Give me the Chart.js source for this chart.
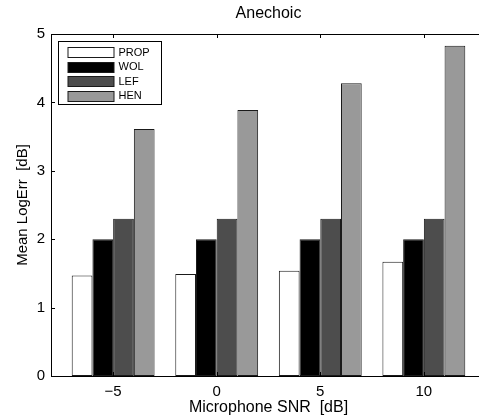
<!DOCTYPE html>
<html>
<head>
<meta charset="utf-8">
<script src="https://cdn.jsdelivr.net/npm/chart.js@4/dist/chart.umd.min.js"></script>
<style>
  html, body { margin: 0; padding: 0; background: #fff; overflow: hidden; }
  #wrap { position: relative; width: 500px; height: 420px; }
</style>
</head>
<body>
<div id="wrap"><canvas id="c"></canvas></div>
<script>
// ---- data ----
const snrValues = [-5, 0, 5, 10];
const seriesNames = ['PROP', 'WOL', 'LEF', 'HEN'];
const propValues = [1.47, 1.49, 1.54, 1.67];
const wolValues = [2.00, 2.00, 2.00, 2.00];
const lefValues = [2.30, 2.30, 2.30, 2.30];
const henValues = [3.61, 3.89, 4.28, 4.83];
const yTickValues = [0, 1, 2, 3, 4, 5];

const seriesColors = ['#ffffff', '#000000', '#4d4d4d', '#999999'];
const allSeries = [propValues, wolValues, lefValues, henValues];
const FONT = 'Liberation Sans, Arial, Helvetica, sans-serif';

const datasets = allSeries.map((vals, i) => ({
  label: seriesNames[i],
  data: snrValues.map((x, j) => ({ x: x, y: vals[j] })),
  backgroundColor: seriesColors[i],
  borderColor: '#1a1a1a',
  borderWidth: 1,
  borderSkipped: false,
  categoryPercentage: 0.8,
  barPercentage: 1.0
}));

// inward ticks + full box, MATLAB style
const boxTicks = {
  id: 'boxTicks',
  afterDatasetsDraw(chart) {
    const { ctx, chartArea: a, scales: { x, y } } = chart;
    ctx.save();
    ctx.strokeStyle = '#000';
    ctx.lineWidth = 1;
    ctx.beginPath();
    ctx.rect(Math.round(a.left) + 0.5, Math.round(a.top) + 0.5,
             Math.round(a.right - a.left), Math.round(a.bottom - a.top));
    const L = 4;
    snrValues.forEach(v => {
      const px = Math.round(x.getPixelForValue(v)) + 0.5;
      ctx.moveTo(px, a.bottom); ctx.lineTo(px, a.bottom - L);
      ctx.moveTo(px, a.top); ctx.lineTo(px, a.top + L);
    });
    yTickValues.forEach(v => {
      const py = Math.round(y.getPixelForValue(v)) + 0.5;
      ctx.moveTo(a.left, py); ctx.lineTo(a.left + L, py);
      ctx.moveTo(a.right, py); ctx.lineTo(a.right - L, py);
    });
    ctx.stroke();
    ctx.restore();
  }
};

// legend box inside the plot (upper-left), MATLAB style
const innerLegend = {
  id: 'innerLegend',
  afterDraw(chart) {
    const { ctx, chartArea: a } = chart;
    const bx = Math.round(a.left) + 7.5, by = Math.round(a.top) + 7.5;
    const bw = 103, bh = 63;
    ctx.save();
    ctx.fillStyle = '#fff';
    ctx.strokeStyle = '#000';
    ctx.lineWidth = 1;
    ctx.fillRect(bx, by, bw, bh);
    ctx.strokeRect(bx, by, bw, bh);
    ctx.font = '11px ' + FONT;
    ctx.textBaseline = 'middle';
    chart.data.datasets.forEach((ds, i) => {
      const cy = by + 10.5 + i * 14.5;
      ctx.fillStyle = ds.backgroundColor;
      ctx.fillRect(bx + 9.5, Math.round(cy - 5) + 0.5, 46, 10);
      ctx.strokeStyle = '#1a1a1a';
      ctx.strokeRect(bx + 9.5, Math.round(cy - 5) + 0.5, 46, 10);
      ctx.fillStyle = '#000';
      ctx.fillText(ds.label, bx + 60, cy + 0.5);
    });
    ctx.restore();
  }
};

new Chart(document.getElementById('c'), {
  type: 'bar',
  data: { datasets },
  plugins: [boxTicks, innerLegend],
  options: {
    responsive: true,
    maintainAspectRatio: false,
    animation: false,
    layout: { padding: { left: 0, right: 14, top: 0, bottom: 0 } },
    plugins: {
      legend: { display: false },
      tooltip: { enabled: false },
      title: {
        display: true,
        text: 'Anechoic',
        fullSize: false,
        color: '#000',
        font: { family: FONT, size: 16, weight: 'normal' },
        padding: { top: 4, bottom: 10.8 }
      }
    },
    scales: {
      x: {
        type: 'linear',
        min: -8,
        max: 13,
        offset: false,
        afterFit(s) { s.height = 44; },
        afterBuildTicks(s) { s.ticks = snrValues.map(v => ({ value: v })); },
        grid: { display: false, drawTicks: false },
        border: { display: true, color: '#000', width: 1 },
        ticks: {
          color: '#000',
          padding: 7,
          autoSkip: false,
          maxRotation: 0,
          font: { family: FONT, size: 15 },
          callback: v => (v < 0 ? '\u2212' + Math.abs(v) : String(v))
        },
        title: {
          display: true,
          text: 'Microphone SNR  [dB]',
          color: '#000',
          font: { family: FONT, size: 16 },
          padding: { top: 0, bottom: 3 }
        }
      },
      y: {
        min: 0,
        max: 5,
        afterFit(s) { s.width = 51; },
        afterBuildTicks(s) { s.ticks = yTickValues.map(v => ({ value: v })); },
        grid: { display: false, drawTicks: false },
        border: { display: true, color: '#000', width: 1 },
        ticks: {
          color: '#000',
          padding: 6,
          font: { family: FONT, size: 15 }
        },
        title: {
          display: true,
          text: 'Mean LogErr  [dB]',
          color: '#000',
          font: { family: FONT, size: 15 },
          padding: { top: 14, bottom: 0 }
        }
      }
    }
  }
});
</script>
</body>
</html>
